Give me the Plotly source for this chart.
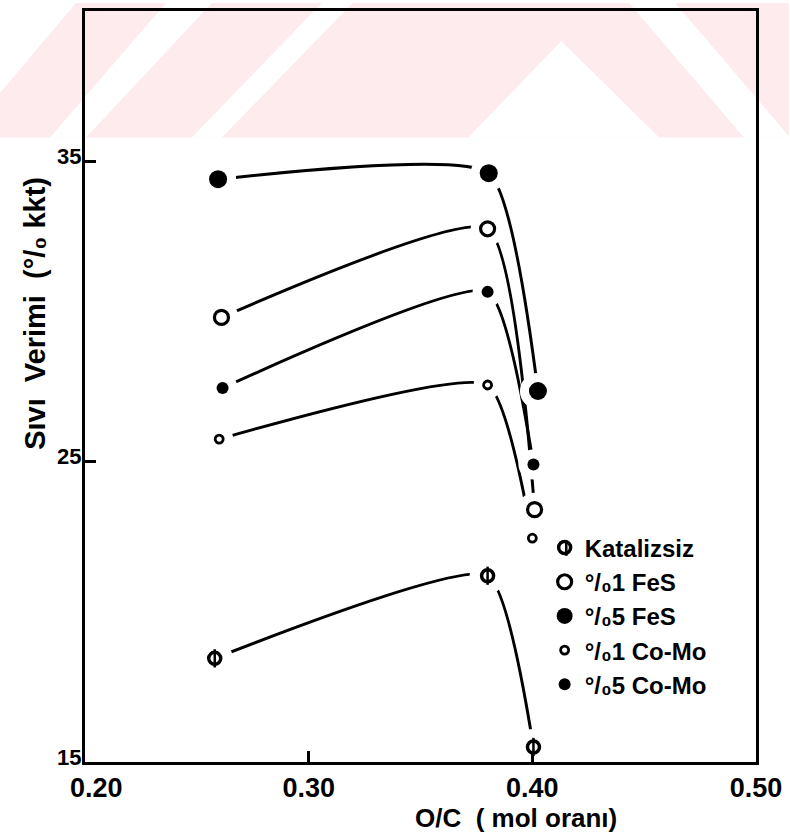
import plotly.graph_objects as go

# ---- data ----
series_names = ["Katalizsiz", "°/₀1 FeS", "°/₀5 FeS", "°/₀1 Co-Mo", "°/₀5 Co-Mo"]

x_kat = [0.258, 0.380, 0.4005]
y_kat = [18.45, 21.2, 15.5]

x_fes1 = [0.261, 0.380, 0.401]
y_fes1 = [29.8, 32.75, 23.4]

x_fes5 = [0.2595, 0.3805, 0.4025]
y_fes5 = [34.4, 34.6, 27.35]

x_como1 = [0.260, 0.380, 0.400]
y_como1 = [25.75, 27.55, 22.45]

x_como5 = [0.2615, 0.380, 0.4005]
y_como5 = [27.45, 30.65, 24.9]

x_ticks = [0.20, 0.30, 0.40, 0.50]
x_ticklabels = ["\u00a0\u00a0\u00a00.20", "0.30", "0.40", "0.50"]
y_ticks = [15, 25, 35]
y_ticklabels = ["15", "25", "35"]

xs = [x_kat, x_fes1, x_fes5, x_como1, x_como5]
ys = [y_kat, y_fes1, y_fes5, y_como1, y_como5]

# marker styles: (symbol, size, line width)
styles = [
    ("circle-open", 12, 3.5),
    ("circle-open", 14, 3.2),
    ("circle", 18, 0),
    ("circle-open", 8, 2.8),
    ("circle", 12, 0),
]
halo_sizes = [36, 34, 36, 28, 30]

FONT = "Liberation Sans"
W, H = 790, 836
L, R, T, B = 85, 33, 8, 74

fig = go.Figure()

# curves
for x, y in zip(xs, ys):
    fig.add_trace(go.Scatter(x=x, y=y, mode="lines",
                             line=dict(color="black", width=3, shape="spline", smoothing=0.5),
                             showlegend=False, hoverinfo="skip"))
# white halos to leave gaps near the points (hand-drawn look)
for x, y, hs in zip(xs, ys, halo_sizes):
    fig.add_trace(go.Scatter(x=x, y=y, mode="markers",
                             marker=dict(symbol="circle", size=hs, color="white",
                                         line=dict(width=0)),
                             showlegend=False, hoverinfo="skip"))
# markers
for i, (x, y, name) in enumerate(zip(xs, ys, series_names)):
    sym, sz, lw = styles[i]
    fig.add_trace(go.Scatter(x=x, y=y, mode="markers", name=name,
                             marker=dict(symbol=sym, size=sz, color="black",
                                         line=dict(color="black", width=lw)),
                             hoverinfo="skip"))
# vertical bar inside the "Katalizsiz" symbol
fig.add_trace(go.Scatter(x=x_kat, y=y_kat, mode="markers", showlegend=False, hoverinfo="skip",
                         marker=dict(symbol="line-ns", size=13,
                                     line=dict(color="black", width=2.5))))

# watermark (pale pink stripes at the top of the page)
pw = W - L - R
ph = H - T - B


def px(xp, yp):
    return (xp - L) / pw, (H - B - yp) / ph


def path(pts):
    s = ""
    for k, (a, b) in enumerate(pts):
        u, v = px(a, b)
        s += ("M" if k == 0 else "L") + f"{u:.4f},{v:.4f} "
    return s + "Z"


pink = "#fdebee"
shapes = [dict(type="path", xref="paper", yref="paper", layer="below",
               path=path([(0, 0), (790, 0), (790, 135), (0, 135)]),
               fillcolor=pink, line=dict(width=0))]
white_polys = [
    [(0, 0), (76, 0), (0, 90)],
    [(166, 0), (212, 0), (86, 135), (50, 135)],
    [(322, 0), (353, 0), (222, 135), (192, 135)],
    [(562, 38), (660, 135), (469, 135)],
    [(630, 0), (676, 0), (791, 135), (745, 135)],
]
for poly in white_polys:
    shapes.append(dict(type="path", xref="paper", yref="paper", layer="below",
                       path=path(poly), fillcolor="white", line=dict(width=0)))

# vertical bar on the "Katalizsiz" legend symbol
lx0, ly0 = px(567, 541)
lx1, ly1 = px(567, 555)
shapes.append(dict(type="line", xref="paper", yref="paper", layer="above",
                   x0=lx0, y0=ly0, x1=lx1, y1=ly1,
                   line=dict(color="black", width=2.5)))

fig.update_layout(
    width=W, height=H,
    margin=dict(l=L, r=R, t=T, b=B),
    paper_bgcolor="white",
    plot_bgcolor="rgba(0,0,0,0)",
    font=dict(family=FONT, color="black"),
    shapes=shapes,
    showlegend=True,
    legend=dict(x=0.685, y=0.315, xanchor="left", yanchor="top",
                bgcolor="rgba(0,0,0,0)", borderwidth=0,
                font=dict(family=FONT, size=24, color="black", weight="bold"),
                itemwidth=30),
    xaxis=dict(range=[0.2, 0.5], tickvals=x_ticks, ticktext=x_ticklabels,
               ticks="inside", ticklen=11, tickwidth=2.5, tickcolor="black",
               showline=True, linewidth=3, linecolor="black", mirror=True,
               showgrid=False, zeroline=False, ticklabelstandoff=0,
               tickfont=dict(family=FONT, size=27, color="black", weight="bold")),
    yaxis=dict(range=[15, 40], tickvals=y_ticks, ticktext=y_ticklabels,
               ticks="inside", ticklen=11, tickwidth=2.5, tickcolor="black",
               showline=True, linewidth=3, linecolor="black", mirror=True,
               showgrid=False, zeroline=False, ticklabelstandoff=-4,
               ticklabelshift=-5,
               tickfont=dict(family=FONT, size=22, color="black", weight="bold")),
    annotations=[
        dict(text="O/C  ( mol oranı)", xref="paper", yref="paper",
             x=(517 - L) / pw, y=(H - B - 818) / ph, xanchor="center", yanchor="middle",
             showarrow=False, font=dict(family=FONT, size=26, color="black", weight="bold")),
        dict(text="Sıvı  Verimi  (°/₀ kkt)", xref="paper", yref="paper",
             x=(35 - L) / pw, y=(H - B - 312) / ph, xanchor="center", yanchor="middle",
             textangle=-90, showarrow=False,
             font=dict(family=FONT, size=29, color="black", weight="bold")),
    ],
)

fig.write_html("out.html")
